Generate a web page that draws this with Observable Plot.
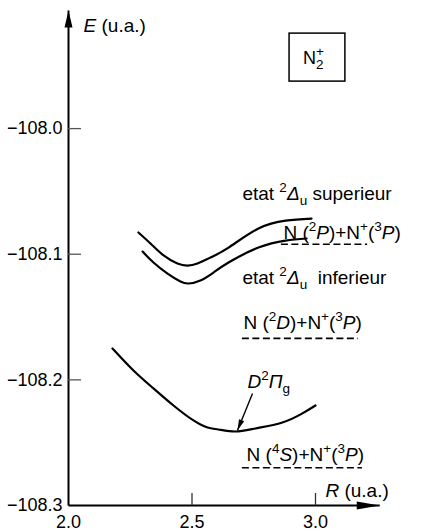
<!DOCTYPE html>
<html>
<head>
<meta charset="utf-8">
<script src="https://cdn.jsdelivr.net/npm/d3@7"></script>
<script src="https://cdn.jsdelivr.net/npm/@observablehq/plot@0.6"></script>
<style>
  html, body { margin: 0; padding: 0; background: #fff; }
  #chart svg { display: block; }
</style>
</head>
<body>
<div id="chart"></div>
<script>
// Potential energy curves of N2+ : energy E (a.u.) against internuclear distance R (a.u.)

// axis ticks and axis extent
const rTicks = [2.0, 2.5, 3.0];
const eTicks = [-108.0, -108.1, -108.2, -108.3];
const rEnd = 3.26;
const eEnd = -107.906;

// upper 2Δu state
const upperR = [2.283, 2.332, 2.385, 2.441, 2.482, 2.522, 2.575, 2.648, 2.769, 2.879, 2.984];
const upperE = [-108.0827, -108.0915, -108.1010, -108.1074, -108.1090, -108.1074, -108.1026, -108.0947, -108.0795, -108.0732, -108.0716];

// lower 2Δu state
const lowerR = [2.300, 2.344, 2.401, 2.453, 2.486, 2.534, 2.587, 2.648, 2.769, 2.879, 2.964];
const lowerE = [-108.0979, -108.1066, -108.1154, -108.1217, -108.1233, -108.1209, -108.1146, -108.1066, -108.0947, -108.0891, -108.0875];

// D 2Πg state
const dPiR = [2.178, 2.263, 2.344, 2.425, 2.506, 2.563, 2.607, 2.676, 2.757, 2.866, 2.947, 3.000];
const dPiE = [-108.175, -108.1925, -108.2068, -108.2204, -108.2323, -108.2379, -108.2395, -108.2411, -108.2387, -108.2339, -108.2267, -108.2204];

// dissociation limits (dashed levels)
const limitE = [-108.092, -108.167, -108.270];
const limitR1 = [2.862, 2.704, 2.704];
const limitR2 = [3.211, 3.174, 3.190];

// text labels: ^{..} superscript, _{..} subscript, *..* italic
const labelText = [
  "etat ^{2}*Δ*_{u} superieur",
  "N (^{2}*P*)+N^{+}(^{3}*P*)",
  "etat ^{2}*Δ*_{u}  inferieur",
  "N (^{2}*D*)+N^{+}(^{3}*P*)",
  "*D*^{2}*Π*_{g}",
  "N (^{4}*S*)+N^{+}(^{3}*P*)",
  "*E* (u.a.)",
  "*R* (u.a.)"
];
const labelR = [2.704, 2.870, 2.704, 2.708, 2.725, 2.721, 2.061, 3.040];
const labelE = [-108.0517, -108.0827, -108.1185, -108.155, -108.202, -108.260, -107.918, -108.288];

// species box
const boxText = "N_{2}^{+}";
const boxR = [2.895, 3.121];
const boxE = [-107.9244, -107.9626];

// pointer to the D 2Πg curve
const pointerR = [2.745, 2.684];
const pointerE = [-108.2108, -108.2403];

const W = 421, H = 531;
const mLeft = 68, mTop = 10, mBottom = 26;
const mRight = W - mLeft - (rEnd - rTicks[0]) * 247;

const toPoints = (R, E) => R.map((r, i) => ({r, e: E[i]}));
const curves = [toPoints(upperR, upperE), toPoints(lowerR, lowerE), toPoints(dPiR, dPiE)];
const limits = limitE.map((e, i) => ({e, r1: limitR1[i], r2: limitR2[i]}));
const labels = labelText.map((t, i) => ({t, r: labelR[i], e: labelE[i]}));
const axes = [
  {x1: rTicks[0], y1: eTicks[3], x2: rTicks[0], y2: eEnd},
  {x1: rTicks[0], y1: eTicks[3], x2: rEnd, y2: eTicks[3]}
];

// filled arrowhead pointing along (ux, uy) in screen space, tip at the origin
function head(ux, uy, len, half) {
  const n = Math.hypot(ux, uy); ux /= n; uy /= n;
  return {draw(ctx) {
    ctx.moveTo(0, 0);
    ctx.lineTo(-ux * len - uy * half, -uy * len + ux * half);
    ctx.lineTo(-ux * len + uy * half, -uy * len - ux * half);
    ctx.closePath();
  }};
}
const headUp = head(0, -1, 17, 4);
const headRight = head(1, 0, 23, 4);
// pointer direction in pixels from the scale factors of the frame
const kx = (W - mLeft - mRight) / (rEnd - rTicks[0]);
const ky = (H - mTop - mBottom) / (eEnd - eTicks[3]);
const headPointer = head((pointerR[1] - pointerR[0]) * kx, -(pointerE[1] - pointerE[0]) * ky, 11, 2.8);

const fmt = d3.format(".1f");
const font = "'Liberation Sans', Arial, Helvetica, sans-serif";

const chart = Plot.plot({
  width: W,
  height: H,
  marginLeft: mLeft,
  marginRight: mRight,
  marginTop: mTop,
  marginBottom: mBottom,
  x: {domain: [rTicks[0], rEnd]},
  y: {domain: [eTicks[3], eEnd]},
  style: {fontFamily: font, fontSize: "19px", color: "#000", background: "#fff", overflow: "visible"},
  marks: [
    // axis lines and arrowheads
    Plot.link(axes, {x1: "x1", y1: "y1", x2: "x2", y2: "y2", stroke: "#000", strokeWidth: 2}),
    Plot.dot([{r: rTicks[0], e: eEnd}], {x: "r", y: "e", symbol: headUp, fill: "#000", stroke: "none"}),
    Plot.dot([{r: rEnd, e: eTicks[3]}], {x: "r", y: "e", symbol: headRight, fill: "#000", stroke: "none"}),
    // inward tick marks
    Plot.axisY(eTicks.slice(0, 3), {tickSize: 13, dx: 13, tickFormat: () => "", label: null, stroke: "#555", strokeWidth: 1.3}),
    Plot.axisX(rTicks.slice(1), {tickSize: 12, dy: -12, tickFormat: () => "", label: null, stroke: "#333", strokeWidth: 1.3}),
    // tick labels
    Plot.axisY(eTicks, {tickSize: 0, tickPadding: 6, tickFormat: fmt, label: null, fontSize: 18}),
    Plot.axisX(rTicks, {tickSize: 0, tickPadding: 10, tickFormat: fmt, label: null, fontSize: 18}),
    // dissociation limits
    Plot.ruleY(limits, {y: "e", x1: "r1", x2: "r2", stroke: "#000", strokeWidth: 1.6, strokeDasharray: "7,3.5"}),
    // potential curves
    ...curves.map(c => Plot.line(c, {x: "r", y: "e", curve: "natural", stroke: "#000", strokeWidth: 2.2})),
    // pointer
    Plot.link([{x1: pointerR[0], y1: pointerE[0], x2: pointerR[1], y2: pointerE[1]}],
      {x1: "x1", y1: "y1", x2: "x2", y2: "y2", stroke: "#000", strokeWidth: 1.4}),
    Plot.dot([{r: pointerR[1], e: pointerE[1]}], {x: "r", y: "e", symbol: headPointer, fill: "#000", stroke: "none"}),
    // species box
    Plot.rect([{x1: boxR[0], x2: boxR[1], y1: boxE[0], y2: boxE[1]}],
      {x1: "x1", x2: "x2", y1: "y1", y2: "y2", fill: "none", stroke: "#000", strokeWidth: 1.5}),
    Plot.text([boxText], {x: (boxR[0] + boxR[1]) / 2, y: (boxE[0] + boxE[1]) / 2, text: d => d, fontSize: 18, dx: -4, dy: 1}),
    // labels
    Plot.text(labels, {x: "r", y: "e", text: "t", textAnchor: "start", fontSize: 19, fill: "#000"})
  ]
});

document.getElementById("chart").appendChild(chart);

// turn the light markup into tspans (superscripts, subscripts, italics)
const NS = "http://www.w3.org/2000/svg";
chart.querySelectorAll("text").forEach(t => {
  const src = t.textContent;
  if (!/[\^_*]/.test(src)) return;
  const re = /\^\{([^}]*)\}|_\{([^}]*)\}|\*([^*]*)\*|([^\^_*]+)/g;
  const tokens = [];
  let m;
  while ((m = re.exec(src))) {
    if (m[1] !== undefined) tokens.push({s: m[1], kind: "sup"});
    else if (m[2] !== undefined) tokens.push({s: m[2], kind: "sub"});
    else if (m[3] !== undefined) tokens.push({s: m[3], kind: "it"});
    else tokens.push({s: m[4], kind: "n"});
  }
  t.textContent = "";
  let offset = 0;
  let prev = null;
  tokens.forEach(tok => {
    const ts = document.createElementNS(NS, "tspan");
    let target = 0;
    if (tok.kind === "sup") { target = -8; ts.setAttribute("font-size", 13.5); }
    if (tok.kind === "sub") { target = 5; ts.setAttribute("font-size", 13.5); }
    if (tok.kind === "it") ts.setAttribute("font-style", "italic");
    if (target !== offset) ts.setAttribute("dy", target - offset);
    offset = target;
    ts.textContent = tok.s;
    t.appendChild(ts);
    if (tok.kind === "sup" && prev && prev.kind === "sub") {
      ts.setAttribute("dx", -prev.el.getComputedTextLength());
    }
    prev = {kind: tok.kind, el: ts};
  });
});
</script>
</body>
</html>
